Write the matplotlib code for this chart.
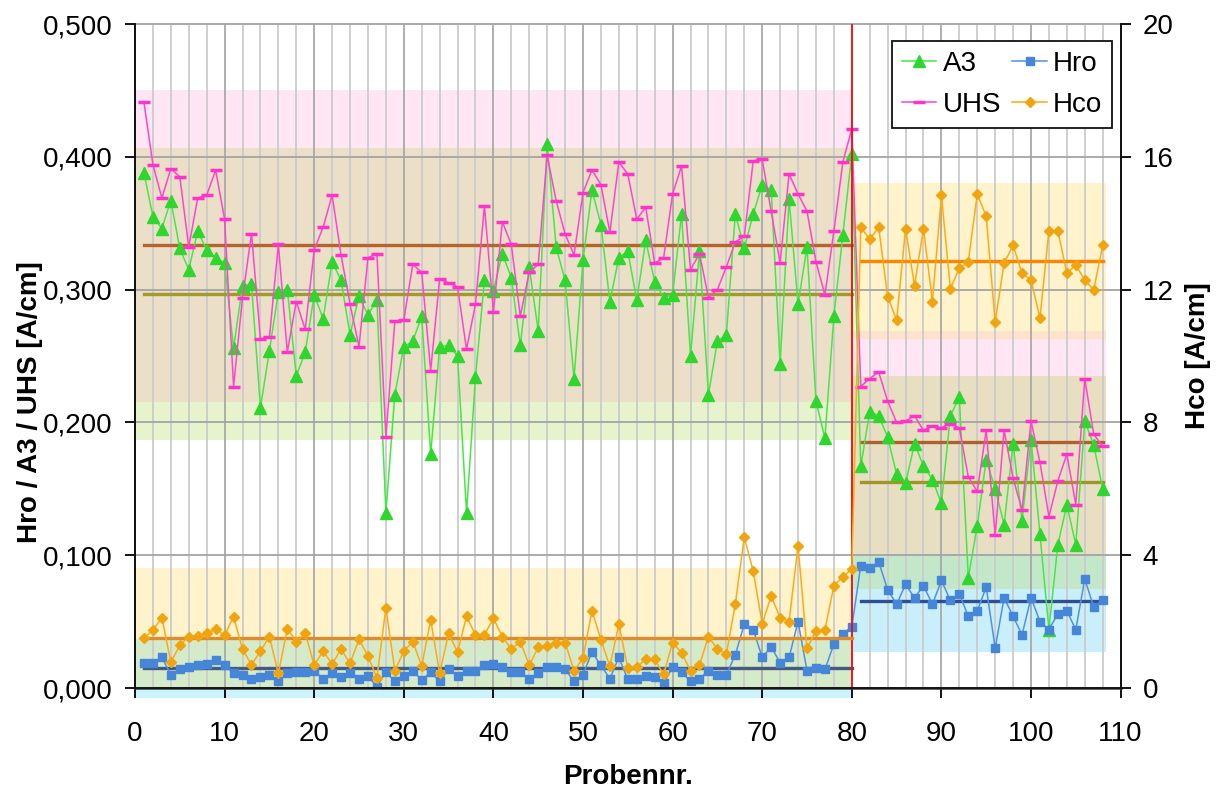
import matplotlib
matplotlib.use("Agg")
import matplotlib.pyplot as plt
from matplotlib.ticker import FuncFormatter, MultipleLocator
import numpy as np

plt.rcParams['font.family'] = ['Liberation Sans', 'DejaVu Sans']

# ---------------- data ----------------
samples = list(range(1, 109))

a3 = [0.388, 0.355, 0.346, 0.367, 0.331, 0.315, 0.344, 0.330, 0.324, 0.320,
      0.256, 0.303, 0.304, 0.211, 0.254, 0.298, 0.300, 0.235, 0.253, 0.296,
      0.278, 0.321, 0.307, 0.266, 0.295, 0.281, 0.292, 0.132, 0.221, 0.257,
      0.261, 0.280, 0.176, 0.257, 0.258, 0.250, 0.132, 0.234, 0.307, 0.299,
      0.327, 0.309, 0.258, 0.317, 0.269, 0.410, 0.332, 0.307, 0.233, 0.322,
      0.375, 0.349, 0.291, 0.324, 0.329, 0.292, 0.337, 0.306, 0.294, 0.296,
      0.357, 0.250, 0.329, 0.221, 0.261, 0.266, 0.357, 0.331, 0.357, 0.379,
      0.375, 0.244, 0.368, 0.289, 0.332, 0.216, 0.188, 0.280, 0.341, 0.402,
      0.167, 0.208, 0.205, 0.189, 0.161, 0.154, 0.184, 0.167, 0.157, 0.139,
      0.205, 0.219, 0.083, 0.122, 0.172, 0.150, 0.123, 0.184, 0.126, 0.187,
      0.116, 0.044, 0.108, 0.138, 0.108, 0.201, 0.183, 0.150]

uhs = [0.441, 0.394, 0.369, 0.391, 0.385, 0.332, 0.369, 0.371, 0.390, 0.353,
       0.227, 0.294, 0.342, 0.263, 0.264, 0.334, 0.253, 0.291, 0.270, 0.330,
       0.347, 0.371, 0.326, 0.289, 0.257, 0.324, 0.327, 0.189, 0.276, 0.277,
       0.319, 0.313, 0.239, 0.308, 0.305, 0.302, 0.255, 0.289, 0.363, 0.283,
       0.351, 0.334, 0.280, 0.313, 0.319, 0.401, 0.367, 0.342, 0.326, 0.373,
       0.390, 0.379, 0.343, 0.396, 0.387, 0.353, 0.362, 0.320, 0.324, 0.372,
       0.393, 0.315, 0.327, 0.294, 0.300, 0.317, 0.336, 0.340, 0.397, 0.398,
       0.359, 0.320, 0.387, 0.372, 0.359, 0.321, 0.296, 0.344, 0.396, 0.421,
       0.227, 0.233, 0.238, 0.216, 0.200, 0.201, 0.205, 0.194, 0.197, 0.196,
       0.199, 0.196, 0.159, 0.148, 0.194, 0.115, 0.194, 0.158, 0.134, 0.201,
       0.170, 0.129, 0.156, 0.176, 0.138, 0.233, 0.191, 0.182]

hro = [0.019, 0.019, 0.023, 0.010, 0.014, 0.016, 0.017, 0.018, 0.021, 0.017,
       0.011, 0.010, 0.007, 0.008, 0.010, 0.005, 0.011, 0.012, 0.012, 0.013,
       0.007, 0.011, 0.008, 0.011, 0.007, 0.009, 0.001, 0.012, 0.005, 0.009,
       0.013, 0.006, 0.012, 0.005, 0.014, 0.009, 0.013, 0.013, 0.017, 0.018,
       0.016, 0.012, 0.012, 0.007, 0.011, 0.016, 0.016, 0.014, 0.005, 0.010,
       0.027, 0.017, 0.007, 0.023, 0.0065, 0.0065, 0.009, 0.008, 0.0035, 0.016,
       0.012, 0.005, 0.007, 0.013, 0.010, 0.010, 0.025, 0.048, 0.044, 0.023,
       0.031, 0.019, 0.023, 0.050, 0.013, 0.015, 0.014, 0.033, 0.041, 0.046,
       0.092, 0.090, 0.095, 0.074, 0.063, 0.078, 0.068, 0.077, 0.063, 0.081,
       0.066, 0.071, 0.054, 0.058, 0.076, 0.030, 0.068, 0.054, 0.040, 0.068,
       0.050, 0.044, 0.056, 0.058, 0.044, 0.082, 0.061, 0.066]

hco = [1.50, 1.75, 2.12, 0.77, 1.29, 1.55, 1.58, 1.65, 1.78, 1.59,
       2.15, 1.17, 0.70, 1.11, 1.55, 0.44, 1.79, 1.40, 1.65, 0.69,
       1.11, 0.72, 1.17, 0.74, 1.47, 0.96, 0.30, 2.42, 0.52, 1.11,
       1.40, 0.66, 2.05, 0.44, 1.65, 1.08, 2.16, 1.60, 1.60, 2.10,
       1.55, 1.17, 1.40, 0.69, 1.22, 1.27, 1.37, 1.37, 0.52, 0.89,
       2.33, 1.45, 0.66, 1.92, 0.61, 0.64, 0.86, 0.86, 0.41, 1.37,
       1.06, 0.52, 0.69, 1.55, 1.17, 1.02, 2.53, 4.54, 3.52, 1.93,
       2.77, 2.12, 2.00, 4.29, 1.19, 1.72, 1.75, 3.08, 3.35, 3.58,
       13.88, 13.51, 13.88, 11.79, 11.08, 13.83, 12.12, 13.83, 11.63, 14.84,
       12.03, 12.64, 12.83, 14.88, 14.21, 11.03, 12.80, 13.33, 12.49, 12.29,
       11.15, 13.77, 13.77, 12.49, 12.74, 12.29, 11.99, 13.33]

# group means (segment 1: samples 1-80, segment 2: samples 81-108)
seg_x = [(1, 80), (81, 108)]
mean_uhs = [0.3333, 0.1855]
mean_a3 = [0.2966, 0.1554]
mean_hro = [0.0153, 0.0655]
mean_hco = [1.50, 12.87]

# tolerance bands (left-axis units), as (x0, x1, y0, y1, colour)
bands = [
    (0, 80, 0.4066, 0.4500, '#ffe6f4'),
    (0, 80, 0.2156, 0.4066, '#ecdfc8'),
    (0, 80, 0.1867, 0.2156, '#e7f3cd'),
    (0, 80, 0.0367, 0.0900, '#fff3cc'),
    (0, 80, 0.0000, 0.0367, '#d5eac8'),
    (0, 80, -0.0075, 0.0000, '#ccf3fc'),
    (80, 108.4, 0.2688, 0.3800, '#fff3cc'),
    (80, 108.4, 0.2626, 0.2688, '#fde3cc'),
    (80, 108.4, 0.2352, 0.2626, '#ffe6f4'),
    (80, 108.4, 0.1009, 0.2352, '#e8dfc2'),
    (80, 108.4, 0.0743, 0.1009, '#c3e8c9'),
    (80, 108.4, 0.0269, 0.0743, '#c9f0fa'),
]

split_x = 80

# ---------------- figure ----------------
W, H = 1223, 792
fig = plt.figure(figsize=(W / 100, H / 100), dpi=100)
ax1 = fig.add_axes([135 / W, 1 - 688 / H, (1120.6 - 135) / W, (688 - 24) / H])
ax2 = ax1.twinx()

ax1.set_xlim(0, 110)
ax1.set_ylim(0, 0.5)
ax2.set_ylim(0, 20)

for x0, x1, y0, y1, c in bands:
    ax1.fill_between([x0, x1], [y0, y0], [y1, y1], color=c, lw=0, zorder=0,
                     clip_on=(y0 >= 0))

# grid
for gx in range(2, 110, 2):
    col = '#a8a8a8' if gx % 10 == 0 else '#cbcbcb'
    ax1.axvline(gx, color=col, lw=1.3, zorder=0.5)
for gy in [0.1, 0.2, 0.3, 0.4, 0.5]:
    ax1.axhline(gy, color='#a4a4a4', lw=1.3, zorder=0.5, clip_on=False)

# mean lines
for (x0, x1), m, c in zip(seg_x, mean_uhs, ['#b5652a', '#b0602a']):
    ax1.plot([x0, x1], [m, m], color=c, lw=2.4, zorder=2.5)
for (x0, x1), m, c in zip(seg_x, mean_a3, ['#a39a2c', '#9e962a']):
    ax1.plot([x0, x1], [m, m], color=c, lw=2.4, zorder=2.5)
for (x0, x1), m, c in zip(seg_x, mean_hro, ['#465a80', '#2f4f90']):
    ax1.plot([x0, x1], [m, m], color=c, lw=2.4, zorder=2.5)
for (x0, x1), m, c in zip(seg_x, mean_hco, ['#dd8b2b', '#ff8500']):
    ax2.plot([x0, x1], [m, m], color=c, lw=2.4, zorder=2.5)

# data series
h_a3, = ax1.plot(samples, a3, color='#44e844', lw=1.1, marker='^', ms=8,
                 mfc='#2ed62e', mec='#2ed62e', zorder=3, label='A3')
h_uhs, = ax1.plot(samples, uhs, color='#ff44d2', lw=1.1, marker='_', ms=8,
                  mew=2.5, mec='#ff33cc', zorder=3, label='UHS')
h_hro, = ax1.plot(samples, hro, color='#5090e8', lw=1.1, marker='s', ms=6,
                  mfc='#4686d8', mec='#4686d8', zorder=3, label='Hro')
h_hco, = ax2.plot(samples, hco, color='#ffaa10', lw=1.1, marker='D', ms=5.5,
                  mfc='#f0a510', mec='#f0a510', zorder=3, label='Hco')

ax1.axvline(split_x, color='#ff0000', lw=1.2, zorder=4)

# axes styling
fmt = FuncFormatter(lambda v, p: f"{v:.3f}".replace('.', ','))
ax1.yaxis.set_major_locator(MultipleLocator(0.1))
ax1.yaxis.set_major_formatter(fmt)
ax1.xaxis.set_major_locator(MultipleLocator(10))
ax2.yaxis.set_major_locator(MultipleLocator(4))

for ax in (ax1, ax2):
    ax.spines['top'].set_visible(False)
    for s in ax.spines.values():
        s.set_linewidth(1.3)
        s.set_color('#111111')
ax1.spines['bottom'].set_color('#333333')
ax1.spines['bottom'].set_linewidth(1.8)

ax1.tick_params(axis='y', direction='out', length=7, width=1.3, labelsize=20, pad=9)
ax1.tick_params(axis='x', direction='out', length=7, width=1.3, labelsize=20, pad=17)
ax2.tick_params(axis='y', direction='out', length=7, width=1.3, labelsize=20, pad=9)

ax1.set_ylabel('Hro / A3 / UHS [A/cm]', fontsize=20, fontweight='bold')
ax1.yaxis.set_label_coords(-0.093, 0.43)
ax2.set_ylabel('Hco [A/cm]', fontsize=20, fontweight='bold', labelpad=8)
ax1.set_xlabel('Probennr.', fontsize=20, fontweight='bold', labelpad=12)

leg = ax2.legend([h_a3, h_uhs, h_hro, h_hco], ['A3', 'UHS', 'Hro', 'Hco'],
                 ncol=2, loc='upper right',
                 bbox_to_anchor=(1112 / W, 1 - 41 / H), bbox_transform=fig.transFigure,
                 borderaxespad=0, fancybox=False, framealpha=1, edgecolor='#111111',
                 fontsize=20, handlelength=1.25, handletextpad=0.22,
                 columnspacing=0.4, labelspacing=0.55, borderpad=0.35, numpoints=1)
leg.get_frame().set_linewidth(1.3)
leg.set_zorder(10)

fig.savefig('out.png', dpi=100)
